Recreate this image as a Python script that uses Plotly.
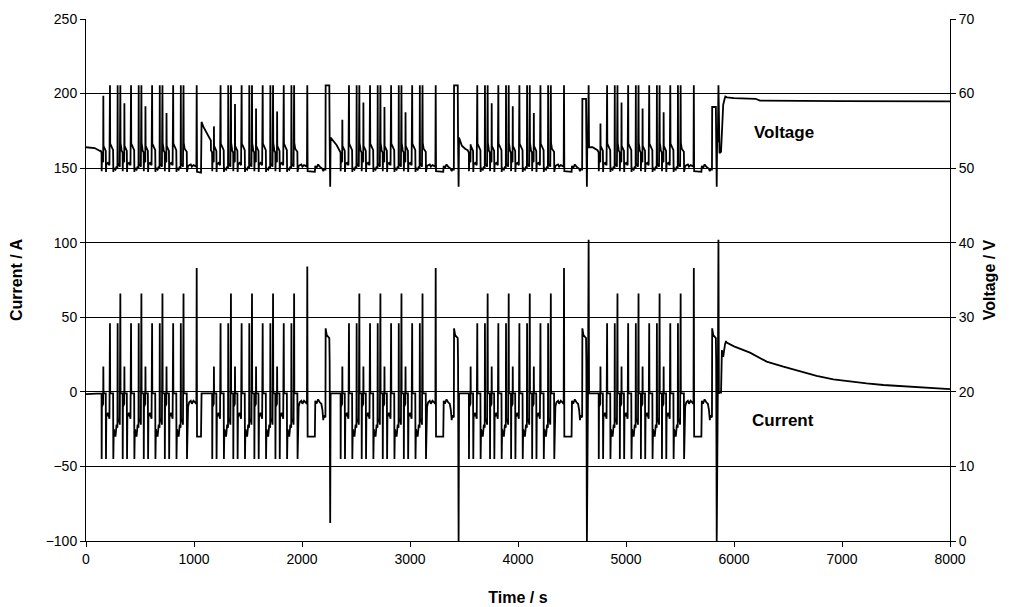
import plotly.graph_objects as go

# ---------------- data ----------------
# initial rest before the first block
INIT_T = [0, 80, 130]
INIT_I = [-1.5, -1.5, -1.5]
INIT_V = [52.8, 52.7, 52.3]

# one urban sub-cycle (seconds relative to its start), current [A], voltage [V]
ECE_TAU = [0, 11, 12, 14, 26, 27.5, 29, 50, 52, 55, 70, 84, 89, 91,
           118, 120, 124, 140, 150, 158, 160, 162, 172, 180, 185, 187, 195]
ECE_I = [-1, -1, -45, -10, -8, 17, -1, -1, -45, -17, -14, -18, 46, -1,
         -1, -45, -25, -30, -22, -24, 46, -20, -18, -22, 66, -1, -1]
ECE_V = [52.4, 52.1, 49.6, 50.8, 50.9, None, 53.0, 52.3, 49.5, 50.5, 50.7, 50.4, 61.1, 53.3,
         52.4, 49.5, 50.0, 49.8, 50.2, 50.0, 61.1, 50.4, 50.5, 50.2, 61.1, 53.4, 52.6]

# start times of the urban sub-cycles in each of the five blocks
ECE_STARTS = [[133, 328, 523, 718],
              [1157, 1352, 1547, 1742],
              [2346, 2541, 2736, 2931],
              [3534, 3729, 3924, 4119],
              [4736, 4931, 5126, 5321]]
# voltage reached at the small regeneration peak of each sub-cycle
SMALL_PEAK_V = [[59.7, 58.7, 58.3, 57.4],
                [55.6, 58.6, 58.0, 57.6],
                [56.5, 58.8, 58.2, 57.5],
                [53.2, 58.7, 58.3, 57.4],
                [56.0, 58.8, 58.0, 57.5]]

# large regeneration peak ending the driving part of each block
T_PEAK = [1025, 2049, 3238, 4426, 5628]
PEAK_I = [83, 84, 83, 83, 83]
PEAK_V = [61.1, 61.1, 61.1, 61.1, 61.1]

# part before the large peak (relative to T_PEAK)
PRE_TAU = [-112, -92, -90, -87, -80, -70, -55, -45, -30, -15, -3]
PRE_I = [-1, -1, -45, -25, -10, -7, -6, -8, -6, -7, -8]
PRE_V = [52.6, 52.2, 49.5, 50.0, 50.3, 50.4, 50.5, 50.2, 50.4, 50.3, 50.2]

# part after the large peak, first block
POST1_TAU = [3, 40, 45, 60, 85, 110, 131]
POST1_I = [-30, -30, -1, -1, -1, -1, -1]
POST1_V = [49.5, 49.4, 56.2, 55.6, 54.9, 54.2, 53.7]

# part after the large peak, blocks 2-5
POST_TAU = [3, 70, 74, 85, 100, 115, 130, 140, 148, 152, 168, 170, 180, 204, 207, 212, 216]
POST_I = [-30, -30, -6, -8, -5, -7, -8, -12, -19, -16, -17, 42.6, 38, 36, 20, None, -1]
POST_V = [49.6, 49.5, 50.3, 50.0, 50.5, 50.2, 50.0, 49.9, 49.6, 49.8, 49.8, None, None, None, 54.0, 47.5, 54.1]
NEG_I = [-88, -100, -100, -100]
PLATEAU_V = [61.1, 61.1, 59.3, 58.2]
# extra charge pulse in blocks 4 and 5
POS_TAU = [222, 228, 232]
POS_I = [-1, 102, -1]
POS_V = [53.5, 61.1, 52.8]
HAS_POS = [False, False, True, True]

# rest between blocks
REST_T = [[2290, 2320], [3480, 3510], [4690, 4715]]
REST_V = [[53.6, 53.1], [53.0, 52.6], [52.8, 52.6]]

# final constant-voltage charge
FINAL_T = [5866, 5880, 5888, 5895, 5901, 5917, 5926, 5932, 6000, 6148, 6302, 6457,
           6611, 6765, 6920, 7074, 7228, 7383, 7691, 7985, 8000]
FINAL_I = [-0.5, -0.5, 28, 24, 24, 32, 34, 33, 30.5, 26.3, 20.3, 16.9,
           13.6, 10.7, 8.4, 6.9, 5.7, 4.6, 3.1, 1.9, 1.8]
FINAL_VT = [5866, 5880, 5888, 5900, 5910, 5920, 5935, 6000, 6200, 6240, 7000, 8000]
FINAL_V = [52.0, 52.2, 56.0, 58.5, 59.1, 59.6, 59.5, 59.4, 59.3, 59.05, 59.0, 58.95]

X_TICKS = [0, 1000, 2000, 3000, 4000, 5000, 6000, 7000, 8000]

# ---------------- assemble the series ----------------
t_all, i_all, v_all = list(INIT_T), list(INIT_I), list(INIT_V)


def add(t, i, v):
    t_all.append(t)
    i_all.append(i)
    v_all.append(v)


for b in range(5):
    for k, s in enumerate(ECE_STARTS[b]):
        for tau, ci, vi in zip(ECE_TAU, ECE_I, ECE_V):
            add(s + tau, ci, SMALL_PEAK_V[b][k] if vi is None else vi)
    T = T_PEAK[b]
    for tau, ci, vi in zip(PRE_TAU, PRE_I, PRE_V):
        add(T + tau, ci, vi)
    add(T, PEAK_I[b], PEAK_V[b])
    if b == 0:
        for tau, ci, vi in zip(POST1_TAU, POST1_I, POST1_V):
            add(T + tau, ci, vi)
    else:
        j = b - 1
        for tau, ci, vi in zip(POST_TAU, POST_I, POST_V):
            add(T + tau, NEG_I[j] if ci is None else ci, PLATEAU_V[j] if vi is None else vi)
        if HAS_POS[j]:
            for tau, ci, vi in zip(POS_TAU, POS_I, POS_V):
                add(T + tau, ci, vi)
        if j < 3:
            for tt, vv in zip(REST_T[j], REST_V[j]):
                add(tt, -1, vv)

cur_x = t_all + FINAL_T
cur_y = i_all + FINAL_I
vol_x = t_all + FINAL_VT
vol_y = v_all + FINAL_V

# ---------------- figure ----------------
fig = go.Figure()
fig.add_trace(go.Scatter(x=cur_x, y=cur_y, mode="lines", name="Current",
                         line=dict(color="black", width=1.8), yaxis="y"))
fig.add_trace(go.Scatter(x=vol_x, y=vol_y, mode="lines", name="Voltage",
                         line=dict(color="black", width=1.8), yaxis="y2"))

FONT = "Liberation Sans, Arial, sans-serif"
axis_font = dict(family=FONT, size=14, color="black")
title_font = dict(family=FONT, size=16, color="black")

# the page body adds an 8 px offset, so the figure is sized to end at the window edge
fig.update_layout(
    width=1004, height=599,
    margin=dict(l=78, r=62, t=11, b=66, autoexpand=False),
    paper_bgcolor="white", plot_bgcolor="white",
    showlegend=False,
    font=axis_font,
    xaxis=dict(range=[0, 8000], tickvals=X_TICKS, showgrid=False, zeroline=False,
               automargin=False,
               showline=True, linecolor="black", linewidth=1,
               ticks="outside", ticklen=5, tickcolor="black",
               tickfont=axis_font,
               title=dict(text="<b>Time / s</b>", font=title_font, standoff=26)),
    yaxis=dict(range=[-100, 250], dtick=50, showgrid=True, gridcolor="black", gridwidth=1,
               zeroline=False, showline=True, linecolor="black", linewidth=1, automargin=False,
               ticks="outside", ticklen=5, tickcolor="black", tickfont=axis_font,
               title=dict(text="<b>Current / A</b>", font=title_font, standoff=20)),
    yaxis2=dict(range=[0, 70], dtick=10, overlaying="y", side="right", showgrid=False,
                zeroline=False, showline=True, linecolor="black", linewidth=1, automargin=False,
                ticks="outside", ticklen=5, tickcolor="black", tickfont=axis_font,
                title=dict(text="<b>Voltage / V</b>", font=title_font, standoff=10)),
    annotations=[
        dict(x=6463, y=173.6, xref="x", yref="y", text="<b>Voltage</b>", showarrow=False,
             font=dict(family=FONT, size=17, color="black")),
        dict(x=6454, y=-19.5, xref="x", yref="y", text="<b>Current</b>", showarrow=False,
             font=dict(family=FONT, size=17, color="black")),
    ],
)

fig.write_html("out.html")
